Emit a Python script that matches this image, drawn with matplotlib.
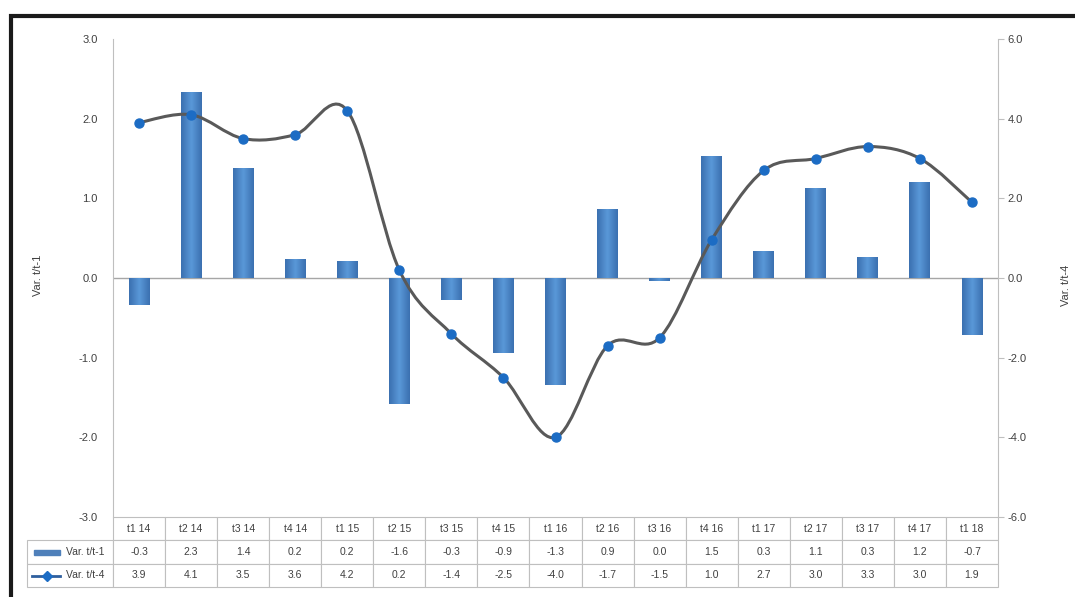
import matplotlib
matplotlib.use("Agg")
import matplotlib.pyplot as plt
import numpy as np
from matplotlib.path import Path
from matplotlib.patches import PathPatch, Rectangle
from matplotlib.lines import Line2D
from matplotlib.colors import LinearSegmentedColormap

plt.rcParams["font.family"] = ["Liberation Sans", "DejaVu Sans"]

# data
periods = ["t1 14", "t2 14", "t3 14", "t4 14", "t1 15", "t2 15", "t3 15", "t4 15",
           "t1 16", "t2 16", "t3 16", "t4 16", "t1 17", "t2 17", "t3 17", "t4 17", "t1 18"]
var_q = [-0.34, 2.34, 1.38, 0.24, 0.21, -1.58, -0.28, -0.94, -1.34, 0.86, -0.04,
         1.53, 0.34, 1.13, 0.26, 1.21, -0.72]
var_y = [3.9, 4.1, 3.5, 3.6, 4.2, 0.2, -1.4, -2.5, -4.0, -1.7, -1.5, 0.96, 2.7, 3.0,
         3.3, 3.0, 1.9]
series_names = ["Var. t/t-1", "Var. t/t-4"]
left_ticks = [-3, -2, -1, 0, 1, 2, 3]
right_ticks = [-6, -4, -2, 0, 2, 4, 6]

BAR_COLOR = "#4a84c4"
LINE_COLOR = "#595959"
MARKER_COLOR = "#1c6cc4"
TEXT_COLOR = "#404040"
GRID_COLOR = "#bfbfbf"

W, H = 1075, 597


def fmt(v):
    s = f"{v:.1f}"
    return "0.0" if s == "-0.0" else s


def smooth_path(xs, ys):
    # Excel-like smoothed line: cubic bezier segments through every point
    pts = np.column_stack([xs, ys]).astype(float)
    n = len(pts)
    verts = [pts[0]]
    codes = [Path.MOVETO]
    for i in range(n - 1):
        p0 = pts[max(i - 1, 0)]
        p1 = pts[i]
        p2 = pts[i + 1]
        p3 = pts[min(i + 2, n - 1)]
        c1 = p1 + (p2 - p0) / 6.0
        c2 = p2 - (p3 - p1) / 6.0
        verts += [c1, c2, p2]
        codes += [Path.CURVE4] * 3
    return Path(verts, codes)


fig = plt.figure(figsize=(W / 100, H / 100), dpi=100)
ax_left, ax_right, ax_top, ax_bot = 113, 998, 39, 517
ax = fig.add_axes([ax_left / W, 1 - ax_bot / H, (ax_right - ax_left) / W, (ax_bot - ax_top) / H])
ax2 = ax.twinx()

x = np.arange(len(periods))
bars = ax.bar(x, var_q, width=0.4, color=BAR_COLOR, zorder=2)
ax.axhline(0, color="#a6a6a6", lw=1, zorder=1)

# horizontal gradient fill on the bars (darker edges, lighter middle)
grad_cmap = LinearSegmentedColormap.from_list("bar", ["#3b70b0", "#5a98d8", "#3b70b0"])
grad = np.linspace(0, 1, 64).reshape(1, -1)
for b in bars:
    bx, by = b.get_x(), b.get_y()
    bw, bh = b.get_width(), b.get_height()
    im = ax.imshow(grad, cmap=grad_cmap, aspect="auto", zorder=2.1,
                   extent=[bx, bx + bw, by, by + bh], interpolation="bilinear")
    im.set_clip_path(b)
ax.set_xlim(-0.5, len(periods) - 0.5)
ax.set_ylim(-3, 3)
ax2.set_ylim(-6, 6)

path = smooth_path(x, var_y)
ax2.add_patch(PathPatch(path, facecolor="none", edgecolor=LINE_COLOR, lw=2.2, zorder=3))
ax2.plot(x, var_y, ls="none", marker="o", ms=6.5, color=MARKER_COLOR, zorder=4)

ax.set_yticks(left_ticks)
ax.set_yticklabels([f"{t:.1f}" for t in left_ticks])
ax2.set_yticks(right_ticks)
ax2.set_yticklabels([f"{t:.1f}" for t in right_ticks])
ax.tick_params(axis="y", length=0, pad=11, labelsize=8, labelcolor=TEXT_COLOR)
ax2.tick_params(axis="y", length=4, width=0.8, color=GRID_COLOR, pad=3, labelsize=8,
                labelcolor=TEXT_COLOR)
ax.set_xticks([])
for a in (ax, ax2):
    a.spines["top"].set_visible(False)
    a.spines["bottom"].set_visible(False)
    a.spines["left"].set_color(GRID_COLOR)
    a.spines["right"].set_color(GRID_COLOR)
ax2.spines["left"].set_visible(False)
ax.spines["right"].set_visible(False)

fig.text(38 / W, 1 - 275 / H, series_names[0], rotation=90, ha="center", va="center",
         fontsize=8, color=TEXT_COLOR)
fig.text(1066 / W, 1 - 285 / H, series_names[1], rotation=90, ha="center", va="center",
         fontsize=8, color=TEXT_COLOR)

# data table under the plot; first column holds the series names
tbl_left, tbl_bottom = 27, 587
axw = ax_right - ax_left
axh = ax_bot - ax_top
label_w = (ax_left - tbl_left) / axw
col_w = 1.0 / len(periods)
bbox = [-label_w, -(tbl_bottom - ax_bot) / axh, 1 + label_w, (tbl_bottom - ax_bot) / axh]
cell_text = [[series_names[0]] + [fmt(v) for v in var_q],
             [series_names[1]] + [fmt(v) for v in var_y]]
tbl = ax.table(cellText=cell_text, colLabels=[""] + periods, cellLoc="center", bbox=bbox)
tbl.auto_set_font_size(False)
for (r, c), cell in tbl.get_celld().items():
    cell.set_edgecolor(GRID_COLOR)
    cell.set_linewidth(0.8)
    cell.set_width(label_w if c == 0 else col_w)
    cell.get_text().set_fontsize(7.5)
    cell.get_text().set_color(TEXT_COLOR)
    if c == 0:
        cell.get_text().set_horizontalalignment("right")
        if r == 0:
            cell.visible_edges = ""

# legend keys inside the row labels
row2_y = 1 - 552 / H
row3_y = 1 - 576 / H
fig.add_artist(Rectangle((34 / W, row2_y - 2.5 / H), 26 / W, 5 / H,
                         transform=fig.transFigure, color="#4f80ba"))
fig.add_artist(Line2D([32 / W, 60 / W], [row3_y, row3_y], transform=fig.transFigure,
                      color="#2f5f9e", lw=2))
fig.add_artist(Line2D([47 / W], [row3_y], transform=fig.transFigure, marker="D",
                      ms=5, color=MARKER_COLOR))

# outer black frame (cut off on the right and bottom)
fig.add_artist(Rectangle((11 / W, -0.2), 1.5, 1.2 - 16 / H, transform=fig.transFigure,
                         fill=False, edgecolor="#1a1a1a", lw=3))

fig.savefig("out.png", dpi=100)
